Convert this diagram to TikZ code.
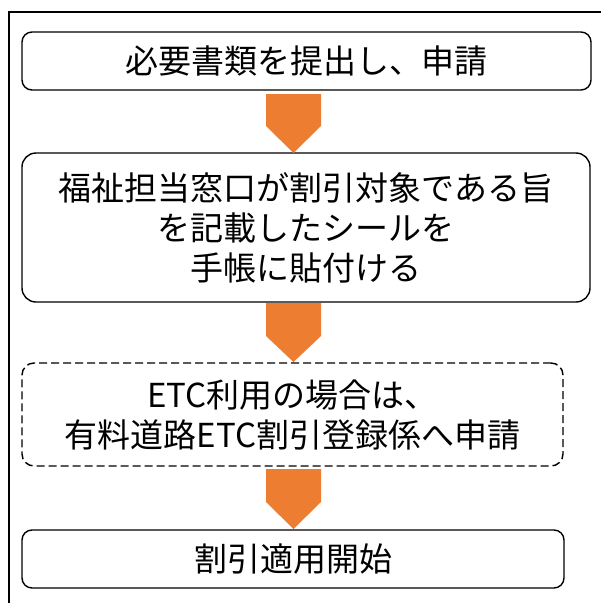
\documentclass[tikz,border=0pt]{standalone}
\usepackage{fontspec}
\newfontfamily\jp{Noto Sans CJK JP}
\definecolor{arroworange}{HTML}{ED7D31}
\tikzset{
  box/.style={draw=black, line width=1.4pt, fill=white, inner sep=0pt, align=center,
    font=\jp\fontsize{33}{40}\selectfont},
  dashbox/.style={box, dash pattern=on 8pt off 4pt},
  downarrow/.style={fill=arroworange, draw=none},
  frame/.style={draw=black, line width=2pt}
}
\begin{document}
\begin{tikzpicture}[x=1pt,y=-1pt]
\useasboundingbox (0,0) rectangle (601,603);
\fill[white] (0,0) rectangle (601,603);
\draw[frame] (8.5,604) -- (8.5,12) -- (602,12);

\node[box, rounded corners=10pt, minimum width=569pt, minimum height=58pt] (b1) at (306.5,61) {必要書類を提出し、申請};
\node[box, rounded corners=14pt, minimum width=568pt, minimum height=149pt] (b2) at (306,227.5)
  {福祉担当窓口が割引対象である旨\\を記載したシールを\\手帳に貼付ける};
\node[dashbox, rounded corners=12pt, minimum width=541pt, minimum height=103pt] (b3) at (292.5,414.5)
  {ETC利用の場合は、\\有料道路ETC割引登録係へ申請};
\node[box, rounded corners=10pt, minimum width=542pt, minimum height=58pt] (b4) at (293,559) {割引適用開始};

\fill[downarrow] (266,94) -- (321,94) -- (321,126) -- (293.5,153) -- (266,126) -- cycle;
\fill[downarrow] (266,303) -- (321,303) -- (321,336) -- (293.5,362) -- (266,336) -- cycle;
\fill[downarrow] (266,469) -- (321,469) -- (321,502) -- (293.5,529) -- (266,502) -- cycle;
\end{tikzpicture}
\end{document}
